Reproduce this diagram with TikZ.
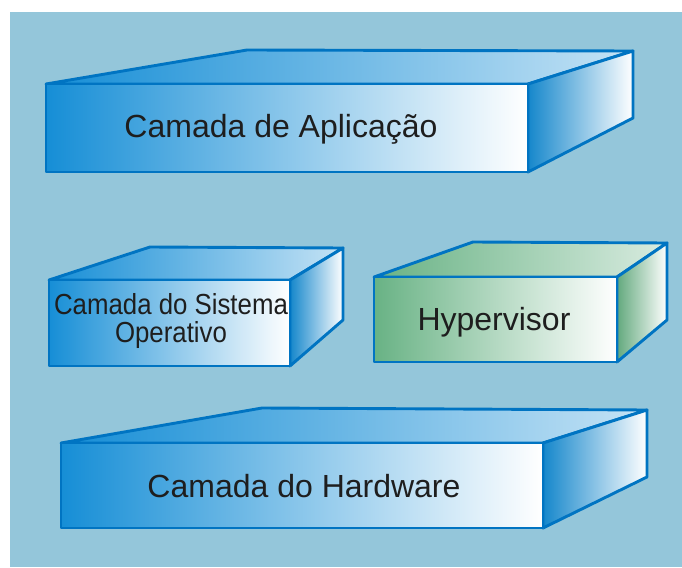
\documentclass[tikz,border=0pt]{standalone}
\usepackage{fontspec}
\setmainfont{Liberation Sans}
\usetikzlibrary{positioning}
\definecolor{paneblue}{RGB}{148,198,218}
\definecolor{edgeblue}{RGB}{0,116,194}
\definecolor{slabblue}{RGB}{22,142,214}
\definecolor{slabgreen}{RGB}{104,178,132}
\definecolor{inkgray}{RGB}{30,30,30}
\tikzset {
  slab edge/.style = {
    draw = edgeblue,
    line width = 2.9pt,
    line join = round
  },
  % front of a slab, colour fading to white
  front face/.style = {
    slab edge,
    left color = #1,
    right color = white
  },
  top face/.style = {
    slab edge,
    left color = #1,
    right color = #1!25!white
  },
  side face/.style = {
    slab edge,
    left color = #1!95!black,
    right color = white
  },
  layer text/.style = {
    text = inkgray,
    inner sep = 0,
    font = \fontsize{32}{36}\selectfont
  }
}
% slab drawn from the named corners <name>-ftl, -fbr, -btl, -btr, -bbr
\newcommand{\drawslab}[2]{
  \path[top face = #2] (#1-ftl) -- (#1-btl) -- (#1-btr) -- (#1-ftl -| #1-fbr) -- cycle;
  \path[side face = #2] (#1-ftl -| #1-fbr) -- (#1-btr) -- (#1-bbr) -- (#1-fbr) -- cycle;
  \path[front face = #2] (#1-ftl) rectangle (#1-fbr);
}
\begin{document}
\begin{tikzpicture}[x = 1pt, y = -1pt]
  \useasboundingbox (0,0) rectangle (682,567);
  \fill[paneblue] (10,12) rectangle (682,567);

  % application layer
  \coordinate (app-ftl) at (46,84);
  \coordinate (app-fbr) at (528,172);
  \coordinate (app-btl) at (247,50);
  \coordinate (app-btr) at (633,51);
  \coordinate (app-bbr) at (633,118);
  \drawslab{app}{slabblue}
  \node[layer text, anchor = base] (app-label) at (281,137) {Camada de Aplicação};

  % operating system layer
  \coordinate (os-ftl) at (49,280);
  \coordinate (os-fbr) at (290,366);
  \coordinate (os-btl) at (150,247);
  \coordinate (os-btr) at (343,248);
  \coordinate (os-bbr) at (343,320);
  \drawslab{os}{slabblue}
  \node[layer text, align = center, font = \fontsize{29}{28}\selectfont,
    xscale = 0.89, transform shape]
    (os-label) at (171,321) {Camada do Sistema\\Operativo};

  % hypervisor
  \coordinate (hyp-ftl) at (374,277);
  \coordinate (hyp-fbr) at (617,362);
  \coordinate (hyp-btl) at (473,242);
  \coordinate (hyp-btr) at (667,243);
  \coordinate (hyp-bbr) at (667,320);
  \drawslab{hyp}{slabgreen}
  \node[layer text, anchor = base] (hyp-label) at (494,330) {Hypervisor};

  % hardware layer
  \coordinate (hw-ftl) at (61,443);
  \coordinate (hw-fbr) at (543,528);
  \coordinate (hw-btl) at (262,408);
  \coordinate (hw-btr) at (647,410);
  \coordinate (hw-bbr) at (647,477);
  \drawslab{hw}{slabblue}
  \node[layer text, anchor = base] (hw-label) at (304,497) {Camada do Hardware};
\end{tikzpicture}
\end{document}
